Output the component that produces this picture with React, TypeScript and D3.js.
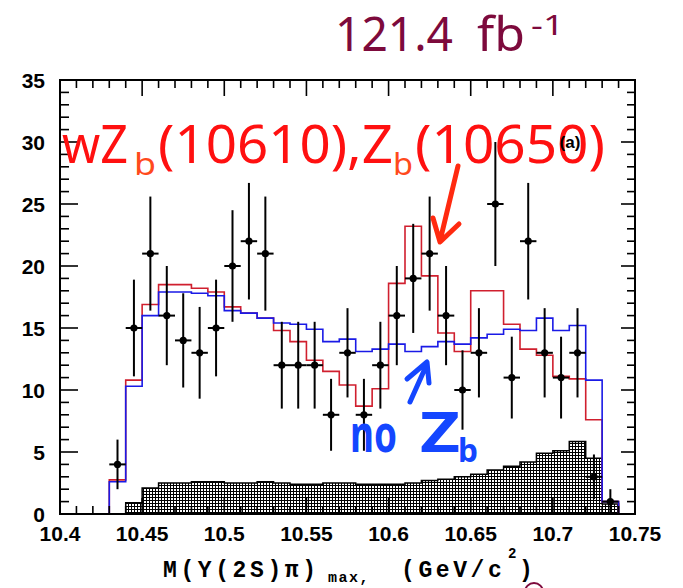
import React from 'react';
import * as d3 from 'd3';

// Histogram binning (GeV/c^2)
const binStart = 10.42;
const binWidth = 0.01;

// Fit with Zb(10610), Zb(10650) signal (red)
const fitWithZb = [0, 2.75, 10.8, 16.9, 18.5, 18.5, 18.2, 17.9, 16.7, 16.2, 15.8, 14.8, 13.9, 12.4, 11.5, 10.4,
  8.7, 10.1, 18.6, 23.2, 19.2, 14.6, 13.1, 18.0, 18.0, 15.3, 13.3, 12.8, 11.1, 10.9, 7.6, 1.0];
// Fit without Zb (blue)
const fitNoZb = [0, 2.6, 10.3, 16.0, 17.9, 17.9, 17.8, 17.6, 16.4, 16.2, 15.8, 15.4, 15.3, 14.9, 13.9, 14.1,
  13.1, 13.3, 13.7, 13.1, 13.5, 13.9, 13.7, 14.2, 14.5, 14.9, 14.8, 15.8, 14.8, 15.2, 10.8, 1.0];
// Background (hatched)
const background = [0, 0, 0.9, 2.1, 2.5, 2.5, 2.6, 2.6, 2.5, 2.5, 2.6, 2.5, 2.4, 2.4, 2.5, 2.5,
  2.4, 2.4, 2.4, 2.5, 2.7, 2.8, 3.0, 3.2, 3.55, 3.85, 4.2, 4.9, 5.1, 5.85, 4.5, 0.8];

// Data points
const massCenters = [10.435, 10.445, 10.455, 10.465, 10.475, 10.485, 10.495, 10.505, 10.515, 10.525,
  10.535, 10.545, 10.555, 10.565, 10.575, 10.585, 10.595, 10.605, 10.615, 10.625, 10.635, 10.645,
  10.655, 10.665, 10.675, 10.685, 10.695, 10.705, 10.715, 10.725, 10.735];
const counts = [4, 15, 21, 16, 14, 13, 15, 20, 22, 21, 12, 12, 12, 8, 13, 8, 12, 16, 19, 21, 16, 10,
  13, 25, 11, 22, 13, 11, 13, 3, 1];
const errors = [2.0, 3.9, 4.6, 4.0, 3.8, 3.7, 3.9, 4.5, 4.7, 4.6, 3.5, 3.5, 3.5, 2.9, 3.6, 2.9, 3.5, 4.0,
  4.4, 4.6, 4.0, 3.2, 3.6, 5.0, 3.3, 4.7, 3.6, 3.3, 3.6, 1.8, 1.0];

// Axes
const xTicks = [10.4, 10.45, 10.5, 10.55, 10.6, 10.65, 10.7, 10.75];
const xTickLabels = ['10.4', '10.45', '10.5', '10.55', '10.6', '10.65', '10.7', '10.75'];
const yTicks = [0, 5, 10, 15, 20, 25, 30, 35];

const W = 683;
const H = 588;
const L = 60, R = 635, T = 80, B = 514;

const x = d3.scaleLinear().domain([10.4, 10.75]).range([L, R]);
const y = d3.scaleLinear().domain([0, 35]).range([B, T]);

type P = [number, number];

function stepPoints(values: number[]): P[] {
  const pts: P[] = [[binStart, 0]];
  values.forEach((v, i) => {
    const x0 = binStart + i * binWidth;
    pts.push([x0, v], [x0 + binWidth, v]);
  });
  pts.push([binStart + values.length * binWidth, 0]);
  return pts;
}

const line = d3.line<P>().x(d => x(d[0])).y(d => y(d[1]));
const area = d3.area<P>().x(d => x(d[0])).y0(y(0)).y1(d => y(d[1]));

const xMinor = d3.range(0, 36).map(i => 10.4 + i * 0.01);
const yMinor = d3.range(0, 36);

const tickFont = "'Liberation Sans', Arial, sans-serif";
const monoFont = "'Liberation Mono', 'DejaVu Sans Mono', monospace";
const handFont = "'Noto Sans', 'Open Sans', sans-serif";

export default function App() {
  return (
    <div style={{ position: 'fixed', left: 0, top: 0 }}>
      <svg width={W} height={H} viewBox={`0 0 ${W} ${H}`} style={{ display: 'block', background: '#fff' }}>
        <defs>
          <pattern id="xhatch" width={3} height={3} patternUnits="userSpaceOnUse">
            <rect width={3} height={3} fill="#000" />
            <rect x={0} y={0} width={2} height={2} fill="#fff" />
          </pattern>
        </defs>

        {/* background */}
        <path d={area(stepPoints(background)) || ''} fill="url(#xhatch)" />
        <path d={line(stepPoints(background)) || ''} fill="none" stroke="#000" strokeWidth={1.5} />

        {/* fits */}
        <path d={line(stepPoints(fitWithZb)) || ''} fill="none" stroke="#d01f2e" strokeWidth={1.6} />
        <path d={line(stepPoints(fitNoZb)) || ''} fill="none" stroke="#1a1ae6" strokeWidth={1.6} />

        {/* data */}
        <g stroke="#000" strokeWidth={2}>
          {massCenters.map((m, i) => (
            <g key={i}>
              <line x1={x(m)} x2={x(m)} y1={y(counts[i] - errors[i])} y2={y(counts[i] + errors[i])} />
              <line x1={x(m - binWidth / 2)} x2={x(m + binWidth / 2)} y1={y(counts[i])} y2={y(counts[i])} />
              <circle cx={x(m)} cy={y(counts[i])} r={3.6} fill="#000" stroke="none" />
            </g>
          ))}
        </g>

        {/* frame and ticks */}
        <g stroke="#000" strokeWidth={1.6} fill="none">
          <rect x={L} y={T} width={R - L} height={B - T} strokeWidth={2} />
          {xMinor.map((v, i) => {
            const major = i % 5 === 0;
            const len = major ? 16 : 8;
            return (
              <g key={'xt' + i}>
                <line x1={x(v)} x2={x(v)} y1={T} y2={T + len} />
                <line x1={x(v)} x2={x(v)} y1={B} y2={B - len} />
              </g>
            );
          })}
          {yMinor.map((v, i) => {
            const major = i % 5 === 0;
            return (
              <g key={'yt' + i}>
                <line x1={L} x2={L + (major ? 18 : 9)} y1={y(v)} y2={y(v)} />
                <line x1={R} x2={R - (major ? 14 : 8)} y1={y(v)} y2={y(v)} />
              </g>
            );
          })}
        </g>

        {/* tick labels */}
        <g fontFamily={tickFont} fontSize={21} fontWeight="bold" fill="#000">
          {yTicks.map(v => (
            <text key={'yl' + v} x={45} y={y(v)} textAnchor="end" dominantBaseline="central">{v}</text>
          ))}
          {xTicks.map((v, i) => (
            <text key={'xl' + v} x={x(v)} y={541} textAnchor="middle">{xTickLabels[i]}</text>
          ))}
        </g>

        {/* axis title */}
        <g fontFamily={monoFont} fontWeight="bold" fill="#000">
          <text x={163} y={577} fontSize={23} letterSpacing={3.6}>M(Y(2S)π)</text>
          <text x={328} y={582} fontSize={15} letterSpacing={1.5}>max,</text>
          <text x={401} y={577} fontSize={23} letterSpacing={3.6}>(GeV/c</text>
          <text x={508} y={558} fontSize={14}>2</text>
          <text x={519} y={577} fontSize={23}>)</text>
        </g>
        <circle cx={534} cy={592} r={9} fill="none" stroke="#7d0a3c" strokeWidth={2} />

        {/* luminosity */}
        <g fontFamily={handFont} fill="#7d0a3c">
          <text x={335} y={51} fontSize={48} textLength={118} lengthAdjust="spacingAndGlyphs">121.4</text>
          <text x={477} y={51} fontSize={48} textLength={48} lengthAdjust="spacingAndGlyphs">fb</text>
          <text x={531} y={35} fontSize={28} textLength={33} lengthAdjust="spacingAndGlyphs">-1</text>
        </g>

        {/* signal label */}
        <g fontFamily={handFont}>
          <text x={62} y={163} fontSize={53} fill="#ff1010" textLength={66} lengthAdjust="spacingAndGlyphs">wZ</text>
          <text x={134} y={175} fontSize={31} fill="#ff4a1c" textLength={22} lengthAdjust="spacingAndGlyphs">b</text>
          <text x={158} y={163} fontSize={53} fill="#ff1010" textLength={235} lengthAdjust="spacingAndGlyphs">(10610),Z</text>
          <text x={393} y={175} fontSize={31} fill="#ff4a1c" textLength={20} lengthAdjust="spacingAndGlyphs">b</text>
          <text x={415} y={163} fontSize={53} fill="#ff1010" textLength={190} lengthAdjust="spacingAndGlyphs">(10650)</text>
        </g>
        <path d="M458,166 L440,241 M433,218 L440,242 L459,224" fill="none" stroke="#ff2a10"
          strokeWidth={5} strokeLinecap="round" strokeLinejoin="round" />

        {/* panel tag, sitting inside the last "0" of the label */}
        <text x={570} y={148} fontFamily={tickFont} fontWeight="bold" fontSize={17} textAnchor="middle">(a)</text>

        {/* no-signal label */}
        <g fontFamily={handFont} fontWeight="bold" fill="#1446ff">
          <text x={350} y={452} fontSize={52} textLength={47} lengthAdjust="spacingAndGlyphs">no</text>
          <text x={420} y={452} fontSize={55} textLength={40} lengthAdjust="spacingAndGlyphs">Z</text>
          <text x={458} y={462} fontSize={32} textLength={20} lengthAdjust="spacingAndGlyphs">b</text>
        </g>
        <path d="M410,402 L427,364 M407,379 L427,362 L429,383" fill="none" stroke="#1446ff"
          strokeWidth={5} strokeLinecap="round" strokeLinejoin="round" />
      </svg>
    </div>
  );
}
